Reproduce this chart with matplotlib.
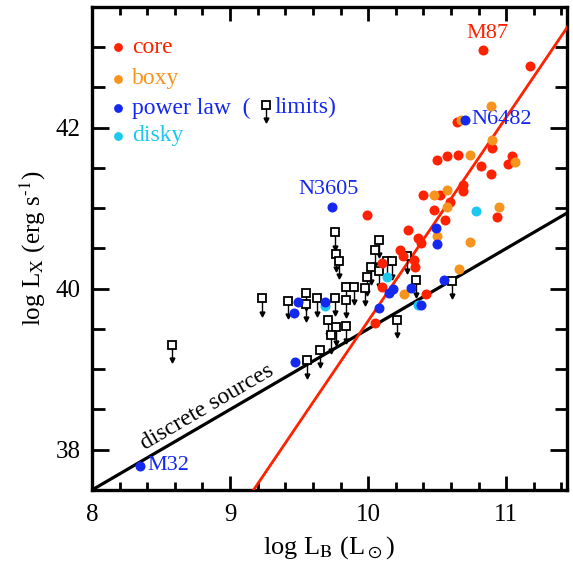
import numpy as np
import matplotlib
matplotlib.use('Agg')
import matplotlib.pyplot as plt
from matplotlib.ticker import MultipleLocator

plt.rcParams['font.family'] = ['Liberation Serif', 'DejaVu Serif']
plt.rcParams['mathtext.fontset'] = 'stix'

# galaxies: log L_B, log L_X
core_x = [10.83, 11.17, 10.64, 10.50, 10.57, 10.65, 10.82, 10.89, 10.90, 11.04, 11.01,
          10.40, 10.52, 10.69, 10.69, 10.48, 10.59, 10.56, 10.93, 9.99, 10.29, 10.36,
          10.38, 10.23, 10.25, 10.33, 10.34, 10.10, 10.10, 10.42, 10.05]
core_y = [42.97, 42.77, 42.07, 41.60, 41.65, 41.66, 41.52, 41.43, 41.75, 41.65, 41.55,
          41.17, 41.17, 41.29, 41.22, 40.98, 41.08, 40.86, 40.89, 40.91, 40.73, 40.63,
          40.57, 40.48, 40.41, 40.36, 40.27, 40.32, 40.02, 39.94, 39.57]
boxy_x = [10.67, 10.89, 10.74, 10.90, 11.06, 10.48, 10.57, 10.57, 10.95, 10.50, 10.74,
          10.66, 10.26]
boxy_y = [42.09, 42.27, 41.66, 41.85, 41.58, 41.17, 41.23, 41.02, 41.02, 40.66, 40.58,
          40.24, 39.94]
power_x = [8.35, 9.74, 10.70, 9.49, 9.46, 9.69, 9.47, 10.18, 10.15, 10.31, 10.38,
           10.08, 10.55, 10.49, 10.50]
power_y = [37.80, 41.02, 42.10, 39.84, 39.70, 39.83, 39.09, 40.00, 39.95, 40.01, 39.80,
           39.76, 40.11, 40.75, 40.55]
disky_x = [9.69, 10.14, 10.36, 10.78]
disky_y = [39.79, 40.14, 39.80, 40.96]
# upper limits
lim_x = [8.58, 9.23, 9.42, 9.55, 9.55, 9.63, 9.76, 9.77, 9.79, 9.76, 9.84, 9.90, 9.84,
         9.71, 9.77, 9.84, 9.73, 9.65, 9.56, 9.98, 9.99, 10.02, 10.05, 10.08, 10.14,
         10.17, 10.28, 10.08, 10.35, 10.21, 10.61]
lim_y = [39.30, 39.88, 39.85, 39.95, 39.81, 39.88, 40.70, 40.43, 40.35, 39.89, 40.02,
         40.02, 39.86, 39.61, 39.52, 39.54, 39.42, 39.24, 39.11, 40.01, 40.14, 40.27,
         40.48, 40.61, 40.34, 40.34, 40.41, 40.22, 40.11, 39.61, 40.10]

# fitted relations
discrete_line = (1.0, 29.5)     # slope, intercept
core_line = (2.53, 14.30)
line_x = [8.0, 11.5]

red = '#ff2200'
orange = '#f7941d'
blue = '#1428f0'
cyan = '#1cc8ef'

fig = plt.figure(figsize=(5.73, 5.63), dpi=100)
ax = fig.add_axes([0.1606, 0.1297, 0.8289, 0.8579])

xx = np.array(line_x)
ax.plot(xx, discrete_line[0] * xx + discrete_line[1], color='black', lw=2.3, zorder=3)
ax.plot(xx, core_line[0] * xx + core_line[1], color=red, lw=2.0, zorder=3)

lx = np.array(lim_x)
ly = np.array(lim_y)
ax.vlines(lx, ly - 0.19, ly, color='black', lw=1.0, zorder=4)
ax.plot(lx, ly - 0.19, 'v', color='black', ms=3.5, zorder=4)
ax.plot(lx, ly, 's', mfc='white', mec='black', mew=1.3, ms=6, zorder=4)

ms = 52
ax.scatter(core_x, core_y, s=ms, color=red, zorder=5, lw=0)
ax.scatter(boxy_x, boxy_y, s=ms, color=orange, zorder=6, lw=0)
ax.scatter(disky_x, disky_y, s=ms, color=cyan, zorder=7, lw=0)
ax.scatter(power_x, power_y, s=ms, color=blue, zorder=8, lw=0)

# labels of named galaxies
ax.text(core_x[0] + 0.03, core_y[0] + 0.08, 'M87', color=red, fontsize=16, ha='center', va='bottom')
ax.text(power_x[2] + 0.05, power_y[2], 'N6482', color=blue, fontsize=16, ha='left', va='center')
ax.text(power_x[1] - 0.03, power_y[1] + 0.1, 'N3605', color=blue, fontsize=16, ha='center', va='bottom')
ax.text(power_x[0] + 0.05, power_y[0], 'M32', color=blue, fontsize=16, ha='left', va='center')
ax.text(8.4, discrete_line[0] * 8.4 + discrete_line[1] + 0.04, 'discrete sources',
        fontsize=17, rotation=30.3, rotation_mode='anchor', ha='left', va='bottom')

# legend
leg = [('core', red, 0.917), ('boxy', orange, 0.851), ('power law  (', blue, 0.791), ('disky', cyan, 0.733)]
for name, c, yy in leg:
    ax.scatter([0.055], [yy], s=40, color=c, lw=0, transform=ax.transAxes, zorder=9)
    ax.text(0.085, yy, name, color=c, fontsize=17, va='center', ha='left', transform=ax.transAxes)
ax.text(0.384, 0.791, 'limits)', color=blue, fontsize=17, va='center', ha='left', transform=ax.transAxes)
ax.plot([0.366, 0.366], [0.793, 0.766], color='black', lw=1.0, transform=ax.transAxes)
ax.plot([0.366], [0.766], 'v', color='black', ms=3.5, transform=ax.transAxes)
ax.plot([0.366], [0.797], 's', mfc='white', mec='black', mew=1.3, ms=6, transform=ax.transAxes)

ax.set_xlim(8, 11.44)
ax.set_ylim(37.5, 43.5)
ax.xaxis.set_major_locator(MultipleLocator(1))
ax.xaxis.set_minor_locator(MultipleLocator(0.2))
ax.yaxis.set_major_locator(MultipleLocator(2))
ax.yaxis.set_minor_locator(MultipleLocator(0.5))
ax.tick_params(which='both', direction='in', top=True, right=True, width=2.0, labelsize=18)
ax.tick_params(axis='x', which='major', length=10, pad=10)
ax.tick_params(axis='x', which='minor', length=6)
ax.tick_params(axis='y', which='major', length=12, pad=8)
ax.tick_params(axis='y', which='minor', length=9)
for sp in ax.spines.values():
    sp.set_linewidth(2.4)

ax.set_xlabel(r'log L$_{\rm B}$ (L$_\odot$)', fontsize=19, labelpad=6)
ax.set_ylabel(r'log L$_{\rm X}$ (erg s$^{\text{-1}}$)', fontsize=18, labelpad=6)

fig.savefig('out.png', dpi=100)
